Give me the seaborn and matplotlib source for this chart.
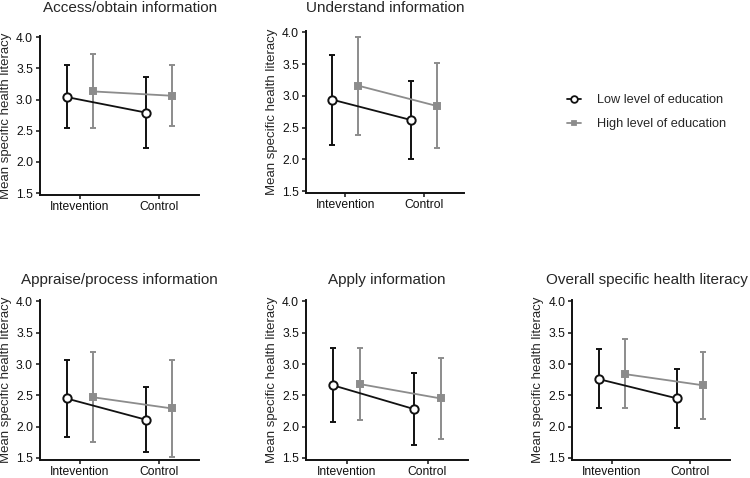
import numpy as np
import pandas as pd
import matplotlib.pyplot as plt
import seaborn as sns

# ==============================
# DATA
# ==============================
panels = ["Access/obtain information", "Understand information",
          "Appraise/process information", "Apply information",
          "Overall specific health literacy"]
conditions = ["Intevention", "Control"]
groups = ["Low level of education", "High level of education"]

# one [intervention, control] pair per panel
low_mean = [[3.04, 2.79], [2.94, 2.62], [2.45, 2.11], [2.66, 2.28], [2.76, 2.45]]
low_lower = [[2.54, 2.23], [2.23, 2.01], [1.84, 1.59], [2.07, 1.70], [2.29, 1.98]]
low_upper = [[3.55, 3.36], [3.64, 3.23], [3.07, 2.63], [3.26, 2.86], [3.24, 2.92]]
high_mean = [[3.13, 3.06], [3.16, 2.84], [2.47, 2.29], [2.68, 2.45], [2.84, 2.66]]
high_lower = [[2.54, 2.57], [2.39, 2.18], [1.76, 1.51], [2.10, 1.81], [2.29, 2.13]]
high_upper = [[3.73, 3.56], [3.92, 3.51], [3.19, 3.06], [3.26, 3.09], [3.40, 3.20]]

yticks = [1.5, 2.0, 2.5, 3.0, 3.5, 4.0]

# ==============================
# LONG TABLE
# ==============================
rows = []
series = {groups[0]: (low_mean, low_lower, low_upper),
          groups[1]: (high_mean, high_lower, high_upper)}
for p, panel in enumerate(panels):
    for g, (m, lo, hi) in series.items():
        for c, cond in enumerate(conditions):
            rows.append(dict(panel=panel, group=g, condition=cond, cidx=c,
                             mean=m[p][c], lower=lo[p][c], upper=hi[p][c]))
df = pd.DataFrame(rows)

# ==============================
# STYLE
# ==============================
sns.set_style("ticks")
plt.rcParams['font.family'] = ['Liberation Sans', 'DejaVu Sans']

styles = {
    groups[0]: dict(color="#111111", marker="o", mfc="white", ms=6.0, off=-0.165),
    groups[1]: dict(color="#8c8c8c", marker="s", mfc="#8c8c8c", ms=4.8, off=0.165),
}

fig = plt.figure(figsize=(7.5, 4.78), dpi=100)

# axes boxes [left, bottom, width, height] in figure fraction
boxes = [[0.0533, 0.592, 0.212, 0.333],
         [0.408, 0.596, 0.210, 0.339],
         [0.0533, 0.038, 0.212, 0.334],
         [0.408, 0.038, 0.216, 0.334],
         [0.763, 0.038, 0.210, 0.334]]
title_x = [0.566, 0.5, 0.5, 0.5, 0.475]
title_pad = [17, 14, 12, 12, 12]

for p, panel in enumerate(panels):
    ax = fig.add_axes(boxes[p])
    sub = df[df.panel == panel]
    for g in groups:
        st = styles[g]
        d = sub[sub.group == g].copy()
        d["x"] = d["cidx"] + st["off"]
        ax.errorbar(d["x"], d["mean"],
                    yerr=[d["mean"] - d["lower"], d["upper"] - d["mean"]],
                    fmt="none", ecolor=st["color"], elinewidth=1.4,
                    capsize=2.2, capthick=1.4, zorder=2)
        sns.lineplot(data=d, x="x", y="mean", ax=ax, color=st["color"],
                     marker=st["marker"], markersize=st["ms"],
                     markerfacecolor=st["mfc"], markeredgecolor=st["color"],
                     markeredgewidth=1.4, linewidth=1.3, label=g,
                     legend=False, zorder=3)
    ax.set_xlim(-0.5, 1.5)
    ax.set_ylim(1.47, 4.02)
    ax.set_xticks(range(len(conditions)))
    ax.set_xticklabels(conditions)
    ax.set_yticks(yticks)
    ax.set_yticklabels([f"{t:.1f}" for t in yticks])
    ax.set_xlabel("")
    ax.set_ylabel("Mean specific health literacy", fontsize=9.5, labelpad=3)
    ax.set_title(panel, fontsize=11, x=title_x[p], pad=title_pad[p])
    ax.tick_params(labelsize=8.7, length=3, width=1.1, pad=2, colors="#111111")
    ax.tick_params(axis="x", pad=1.5)
    for s in ["left", "bottom"]:
        ax.spines[s].set_linewidth(1.4)
        ax.spines[s].set_color("#111111")
    sns.despine(ax=ax)

# legend
handles = [plt.Line2D([], [], color=styles[g]["color"], marker=styles[g]["marker"],
                      markersize=styles[g]["ms"] - 1.2, markerfacecolor=styles[g]["mfc"],
                      markeredgecolor=styles[g]["color"], markeredgewidth=1.3,
                      linewidth=1.3) for g in groups]
fig.legend(handles, groups, loc="upper left", bbox_to_anchor=(0.756, 0.803),
           frameon=False, fontsize=9.2, handlelength=1.1, handletextpad=1.25,
           labelspacing=0.94, borderpad=0, borderaxespad=0)

fig.savefig("out.png", dpi=100)
